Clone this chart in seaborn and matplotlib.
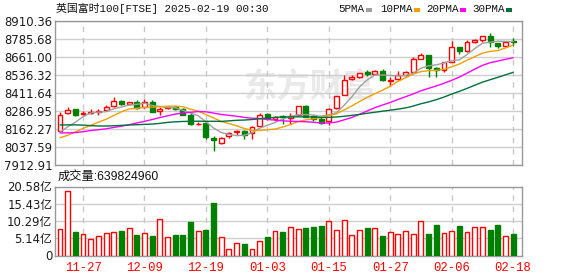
import numpy as np
import pandas as pd
import matplotlib
matplotlib.use('Agg')
import matplotlib.pyplot as plt
from matplotlib.patches import Rectangle
import seaborn as sns

# ---------------- data ----------------
dates = ['11-22', '11-25', '11-26', '11-27', '11-28', '11-29', '12-02', '12-03', '12-04', '12-05',
         '12-06', '12-09', '12-10', '12-11', '12-12', '12-13', '12-16', '12-17', '12-18', '12-19',
         '12-20', '12-23', '12-24', '12-27', '12-30', '12-31', '01-02', '01-03', '01-06', '01-07',
         '01-08', '01-09', '01-10', '01-13', '01-14', '01-15', '01-16', '01-17', '01-20', '01-21',
         '01-22', '01-23', '01-24', '01-27', '01-28', '01-29', '01-30', '01-31', '02-03', '02-04',
         '02-05', '02-06', '02-07', '02-10', '02-11', '02-12', '02-13', '02-14', '02-17', '02-18']
opens = [8149, 8270, 8298, 8266, 8276, 8282, 8293, 8320, 8359, 8338,
         8352, 8318, 8352, 8290, 8305, 8313, 8302, 8262, 8195, 8207,
         8100, 8066, 8116, 8143, 8150, 8134, 8180, 8266, 8232, 8250,
         8240, 8258, 8322, 8250, 8232, 8215, 8305, 8400, 8508, 8525,
         8556, 8545, 8565, 8494, 8507, 8538, 8559, 8650, 8672, 8584,
         8572, 8628, 8727, 8702, 8768, 8779, 8808, 8761, 8740, 8770]
highs = [8277, 8312, 8300, 8290, 8304, 8304, 8330, 8384, 8364, 8352,
         8364, 8370, 8366, 8318, 8320, 8322, 8305, 8270, 8212, 8210,
         8116, 8106, 8143, 8155, 8153, 8180, 8274, 8274, 8252, 8258,
         8270, 8325, 8330, 8258, 8248, 8305, 8393, 8534, 8536, 8552,
         8570, 8573, 8575, 8520, 8566, 8565, 8660, 8688, 8674, 8590,
         8625, 8770, 8727, 8778, 8785, 8808, 8824, 8761, 8768, 8790]
lows = [8145, 8263, 8250, 8257, 8263, 8256, 8286, 8318, 8330, 8330,
        8304, 8306, 8280, 8256, 8298, 8292, 8256, 8190, 8188, 8090,
        8007, 8060, 8102, 8120, 8094, 8094, 8175, 8226, 8216, 8200,
        8200, 8252, 8245, 8218, 8195, 8190, 8298, 8398, 8500, 8518,
        8530, 8540, 8497, 8461, 8500, 8530, 8556, 8648, 8524, 8522,
        8556, 8625, 8680, 8695, 8760, 8762, 8729, 8720, 8735, 8740]
closes = [8262, 8292, 8259, 8275, 8280, 8287, 8312, 8359, 8336, 8349,
          8309, 8352, 8281, 8302, 8312, 8300, 8262, 8195, 8199, 8105,
          8085, 8103, 8137, 8150, 8121, 8173, 8260, 8236, 8248, 8245,
          8251, 8320, 8248, 8230, 8206, 8301, 8392, 8505, 8521, 8548,
          8545, 8565, 8502, 8504, 8534, 8558, 8647, 8674, 8584, 8571,
          8623, 8727, 8701, 8768, 8777, 8807, 8765, 8735, 8762, 8767]
# volume in 亿
volumes = [7.8, 19.2, 7.0, 6.4, 4.9, 5.8, 6.7, 7.0, 7.4, 8.1,
           6.1, 6.7, 5.8, 10.8, 5.5, 6.1, 6.1, 10.0, 7.4, 7.6,
           15.7, 5.4, 1.8, 3.6, 3.4, 1.8, 4.3, 5.5, 7.3, 7.0,
           8.4, 7.8, 8.2, 8.5, 8.8, 10.2, 7.5, 10.5, 6.0, 7.5,
           8.2, 8.1, 5.8, 7.0, 6.3, 7.3, 6.3, 10.3, 6.5, 9.1,
           6.7, 7.3, 8.8, 7.0, 8.5, 8.5, 7.6, 9.1, 5.8, 6.3982496]
# closes before the visible window (needed for the moving averages)
prior_closes = [8292, 8249, 8329, 8385, 8358, 8318, 8306, 8258, 8269, 8248,
                8285, 8219, 8159, 8110, 8177, 8184, 8172, 8166, 8140, 8072,
                8125, 8025, 8030, 8071, 8063, 8109, 8099, 8085, 8149]

price_ticks = [8910.36, 8785.68, 8661.00, 8536.32, 8411.64, 8286.95, 8162.27, 8037.59, 7912.91]
vol_ticks = [0, 5.14, 10.29, 15.43, 20.58]
vol_tick_labels = ['0', '5.14亿', '10.29亿', '15.43亿', '20.58亿']
xtick_labels = ['11-27', '12-09', '12-19', '01-03', '01-15', '01-27', '02-06', '02-18']
ma_names = ['5PMA', '10PMA', '20PMA', '30PMA']
ma_windows = [5, 10, 20, 30]
ma_colors = ['#a0a0a0', '#f0a000', '#ff00ff', '#00703c']
title = '英国富时100[FTSE] 2025-02-19 00:30'
vol_title = '成交量:639824960'

# ---------------- style ----------------
sns.set_theme(style='white')
plt.rcParams['font.family'] = ['DejaVu Sans', 'Noto Sans CJK SC']

W, H = 578, 276
fig = plt.figure(figsize=(W / 100, H / 100), dpi=100)
fig.patch.set_facecolor('white')

def fx(px):
    return px / W

def fy(py):
    return 1 - py / H

L, R = 55, 522
ax = fig.add_axes([fx(L), fy(165), (R - L) / W, (165 - 21) / H])
axv = fig.add_axes([fx(L), fy(255.5), (R - L) / W, (255.5 - 186.5) / H])

RED = '#ff0000'
GREEN = '#008000'
n = len(dates)
x = np.arange(n)
o = np.array(opens, float)
c = np.array(closes, float)
hi = np.array(highs, float)
lo = np.array(lows, float)
up = c >= o
cols = np.where(up, RED, GREEN)

# watermark (behind the candles)
ax.text(fx(310), fy(88), '东方财富', transform=fig.transFigure, fontsize=24, fontweight='bold',
        color='#e9e9e9', ha='center', va='center', family=['Noto Sans CJK SC'], zorder=0.5)

# grid
xpos = [dates.index(d) for d in xtick_labels]
for t in price_ticks:
    ax.axhline(t, color='#cfcfcf', lw=1, zorder=1)
for t in vol_ticks[1:-1]:
    axv.axhline(t, color='#cfcfcf', lw=1, zorder=1)
for p in xpos:
    ax.axvline(p, color='#c8c8c8', lw=1, ls=(0, (4, 4)), zorder=1)
    axv.axvline(p, color='#c8c8c8', lw=1, ls=(0, (4, 4)), zorder=1)

# candles
bw = 0.64
ax.vlines(x, lo, hi, colors=cols, lw=1, zorder=2)
body_b = np.minimum(o, c)
body_h = np.maximum(np.abs(c - o), 0.8)
ax.bar(x[up], body_h[up], bottom=body_b[up], width=bw, facecolor='white', edgecolor=RED,
       linewidth=1, zorder=3)
ax.bar(x[~up], body_h[~up], bottom=body_b[~up], width=bw, facecolor=GREEN, edgecolor=GREEN,
       linewidth=1, zorder=3)

# moving averages
full = pd.Series(prior_closes + closes, dtype=float)
for name, w, col in zip(ma_names, ma_windows, ma_colors):
    ma = full.rolling(w).mean().to_numpy()[-n:]
    sns.lineplot(x=x, y=ma, ax=ax, color=col, lw=1, zorder=4, legend=False)

ax.set_xlim(-0.65, 60.16)
ax.set_ylim(price_ticks[-1], price_ticks[0])
ax.set_yticks(price_ticks)
ax.set_yticklabels([f'{t:.2f}' for t in price_ticks])
ax.set_xticks([])

# volume
vol = np.array(volumes)
axv.bar(x[up], vol[up], width=bw, facecolor='white', edgecolor=RED, linewidth=1, zorder=3)
axv.bar(x[~up], vol[~up], width=bw, facecolor=GREEN, edgecolor=GREEN, linewidth=1, zorder=3)
axv.set_xlim(-0.65, 60.16)
axv.set_ylim(0, 20.58)
axv.set_yticks(vol_ticks)
axv.set_yticklabels(vol_tick_labels)
axv.set_xticks(xpos)
axv.set_xticklabels(xtick_labels, color=RED, family=['Liberation Mono'], fontsize=8.8)

for a in (ax, axv):
    a.set_facecolor('none')
    for s in a.spines.values():
        s.set_color('#999999')
        s.set_linewidth(1)
    a.tick_params(axis='both', length=0, pad=2)
    a.tick_params(axis='y', labelsize=8.4, labelcolor='#1a1a1a')
    a.set_xlabel('')
    a.set_ylabel('')
axv.tick_params(axis='x', pad=5)

# title and legend
fig.text(fx(56), fy(9), title, fontsize=7.8, color='#111111', ha='left', va='center',
         family=['Liberation Mono', 'Noto Sans CJK SC'])
leg_x = [338, 380, 426, 472]
for name, col, lx in zip(ma_names, ma_colors, leg_x):
    fig.text(fx(lx), fy(9), name, fontsize=7.8, color='#111111', ha='left', va='center',
             family=['Liberation Mono'])
    sw = lx + 6.4 * len(name) + 2
    fig.patches.append(Rectangle((fx(sw), fy(11.5)), 6 / W, 4 / H, transform=fig.transFigure,
                                 facecolor=col, edgecolor='none'))

fig.text(fx(58), fy(177), vol_title, fontsize=8.8, color='#111111', ha='left', va='center',
         family=['Liberation Sans', 'Noto Sans CJK SC'])

fig.savefig('out.png', dpi=100, facecolor='white')
